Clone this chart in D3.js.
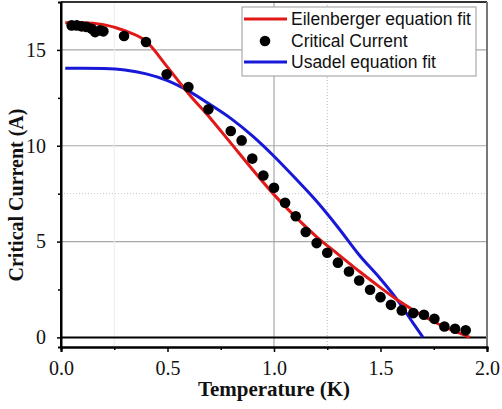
<!DOCTYPE html>
<html><head><meta charset="utf-8">
<script src="https://cdnjs.cloudflare.com/ajax/libs/d3/7.8.5/d3.min.js"></script>
<style>
html,body{margin:0;padding:0;background:#fff;}
svg{display:block;}
.tk text{font-family:'Liberation Serif','Times New Roman',serif !important;font-size:20px !important;fill:#111;}
</style></head>
<body>
<script>
// ---- data ----
const measT = [0.05,0.074,0.097,0.12,0.144,0.16,0.183,0.199,0.296,0.399,0.496,0.598,0.692,0.797,0.848,0.898,0.95,1.0,1.052,1.102,1.149,1.2,1.25,1.30,1.352,1.40,1.451,1.50,1.549,1.60,1.654,1.704,1.753,1.80,1.85,1.90];
const measI = [16.28,16.28,16.23,16.2,16.1,15.93,16.02,15.97,15.73,15.41,13.73,13.06,11.9,10.77,10.28,9.33,8.45,7.81,7.03,6.32,5.5,4.92,4.42,3.9,3.44,2.97,2.49,2.1,1.7,1.41,1.27,1.18,0.97,0.57,0.45,0.37];
const eilT = [0.02,0.1,0.2,0.3,0.4,0.5,0.6,0.7,0.8,0.9,1.0,1.1,1.2,1.3,1.4,1.5,1.58,1.65,1.72,1.8,1.86,1.92];
const eilI = [16.42,16.42,16.32,16.0,15.45,14.1,12.7,11.45,10.1,8.75,7.45,6.3,5.25,4.35,3.45,2.6,1.95,1.45,1.0,0.55,0.28,0.0];
const usaT = [0.02,0.1,0.2,0.3,0.4,0.5,0.6,0.7,0.8,0.9,1.0,1.1,1.2,1.3,1.4,1.5,1.576,1.65,1.70];
const usaI = [14.05,14.05,14.03,13.95,13.75,13.4,12.85,12.15,11.4,10.5,9.45,8.3,7.1,5.75,4.3,3.05,2.0,0.8,0.0];
const xTicks = [0.0,0.5,1.0,1.5,2.0];
const xTickLabels = ["0.0","0.5","1.0","1.5","2.0"];
const yTicks = [0,5,10,15];
const legendLabels = ["Eilenberger equation fit","Critical Current","Usadel equation fit"];
const xTitle = "Temperature (K)";
const yTitle = "Critical Current (A)";

// ---- layout ----
const W = 502, H = 409;
const L = 61, R = 487, T = 2, B = 347;
const RED = "#e01818", BLUE = "#1818d8";

const svg = d3.select("body").append("svg").attr("width", W).attr("height", H);
const x = d3.scaleLinear().domain([0, 2]).range([L, R]);
const y = d3.scaleLinear().domain([-0.5, 17.5]).range([B, T]);

// grid
const g = svg.append("g");
[5,10,15].forEach(v => g.append("line").attr("x1", L).attr("x2", R).attr("y1", y(v)).attr("y2", y(v))
  .attr("stroke", "#a8a8a8").attr("stroke-width", 1.2));
[7.5].forEach(v => g.append("line").attr("x1", L).attr("x2", R).attr("y1", y(v)).attr("y2", y(v))
  .attr("stroke", "#c8c8c8").attr("stroke-width", 1).attr("stroke-dasharray", "1,2"));
[1.0].forEach(v => g.append("line").attr("x1", x(v)).attr("x2", x(v)).attr("y1", T).attr("y2", B)
  .attr("stroke", "#a8a8a8").attr("stroke-width", 1.2));
[1.25].forEach(v => g.append("line").attr("x1", x(v)).attr("x2", x(v)).attr("y1", T).attr("y2", B)
  .attr("stroke", "#b8b8b8").attr("stroke-width", 1).attr("stroke-dasharray", "1,2"));
[0.25].forEach(v => g.append("line").attr("x1", x(v)).attr("x2", x(v)).attr("y1", T).attr("y2", B)
  .attr("stroke", "#ececec").attr("stroke-width", 1));

// zero line
svg.append("line").attr("x1", L).attr("x2", R).attr("y1", y(0)).attr("y2", y(0))
  .attr("stroke", "#000").attr("stroke-width", 2);

// frame: top & right
svg.append("line").attr("x1", L).attr("x2", R).attr("y1", T).attr("y2", T).attr("stroke", "#333").attr("stroke-width", 2);
svg.append("line").attr("x1", R).attr("x2", R).attr("y1", T).attr("y2", B).attr("stroke", "#777").attr("stroke-width", 2);

// curves
const lineGen = d3.line().x(d => x(d[0])).y(d => y(d[1])).curve(d3.curveMonotoneX);
svg.append("path").datum(usaT.map((t,i) => [t, usaI[i]])).attr("d", lineGen)
  .attr("fill", "none").attr("stroke", BLUE).attr("stroke-width", 3);
svg.append("path").datum(eilT.map((t,i) => [t, eilI[i]])).attr("d", lineGen)
  .attr("fill", "none").attr("stroke", RED).attr("stroke-width", 3);

// points
svg.append("g").selectAll("circle").data(measT.map((t,i) => [t, measI[i]])).join("circle")
  .attr("cx", d => x(d[0])).attr("cy", d => y(d[1])).attr("r", 5.3).attr("fill", "#000");

// axes
const fontSerif = "'Liberation Serif','Times New Roman',serif";
const xAxis = svg.append("g").attr("class", "tk").attr("transform", `translate(0,${B})`)
  .call(d3.axisBottom(x).tickValues(xTicks).tickFormat((d,i) => xTickLabels[i]).tickSize(5).tickPadding(8.5));
const xMinor = svg.append("g").attr("transform", `translate(0,${B})`)
  .call(d3.axisBottom(x).tickValues([0.25,0.75,1.25,1.75]).tickFormat("").tickSize(3));
const yAxis = svg.append("g").attr("class", "tk").attr("transform", `translate(${L},0)`)
  .call(d3.axisLeft(y).tickValues(yTicks).tickSize(4).tickPadding(11));
const yMinor = svg.append("g").attr("transform", `translate(${L},0)`)
  .call(d3.axisLeft(y).tickValues([2.5,7.5,12.5]).tickFormat("").tickSize(3));
[xAxis, xMinor, yAxis, yMinor].forEach(a => {
  a.attr("font-family", fontSerif).attr("font-size", 20);
  a.select(".domain").attr("stroke", "#000").attr("stroke-width", 2);
  a.selectAll(".tick line").attr("stroke", "#000").attr("stroke-width", 1.5);
});
xMinor.selectAll("text").remove();
yMinor.selectAll("text").remove();
yAxis.select(".domain").attr("d", `M0,${B}V${T}`);

// titles
svg.append("text").attr("x", (L + R) / 2).attr("y", 396).attr("text-anchor", "middle")
  .attr("font-family", fontSerif).attr("font-weight", "bold").attr("font-size", 21).attr("fill", "#111").text(xTitle);
svg.append("text").attr("transform", `translate(23,195) rotate(-90)`).attr("text-anchor", "middle")
  .attr("font-family", fontSerif).attr("font-weight", "bold").attr("font-size", 20).attr("fill", "#111").text(yTitle);

// legend
const lg = svg.append("g");
lg.append("rect").attr("x", 242).attr("y", 7).attr("width", 234).attr("height", 69)
  .attr("fill", "#fff").attr("stroke", "#999").attr("stroke-width", 1);
const rows = [19, 41, 62];
lg.append("line").attr("x1", 244).attr("x2", 287).attr("y1", rows[0]).attr("y2", rows[0]).attr("stroke", RED).attr("stroke-width", 3);
lg.append("circle").attr("cx", 265).attr("cy", rows[1]).attr("r", 5.3).attr("fill", "#000");
lg.append("line").attr("x1", 244).attr("x2", 287).attr("y1", rows[2]).attr("y2", rows[2]).attr("stroke", BLUE).attr("stroke-width", 3);
legendLabels.forEach((t, i) => lg.append("text").attr("x", 291).attr("y", rows[i] + 6)
  .attr("font-family", "'Liberation Sans',Arial,sans-serif").attr("font-size", 17.5).attr("fill", "#111").text(t));
</script>
</body></html>
